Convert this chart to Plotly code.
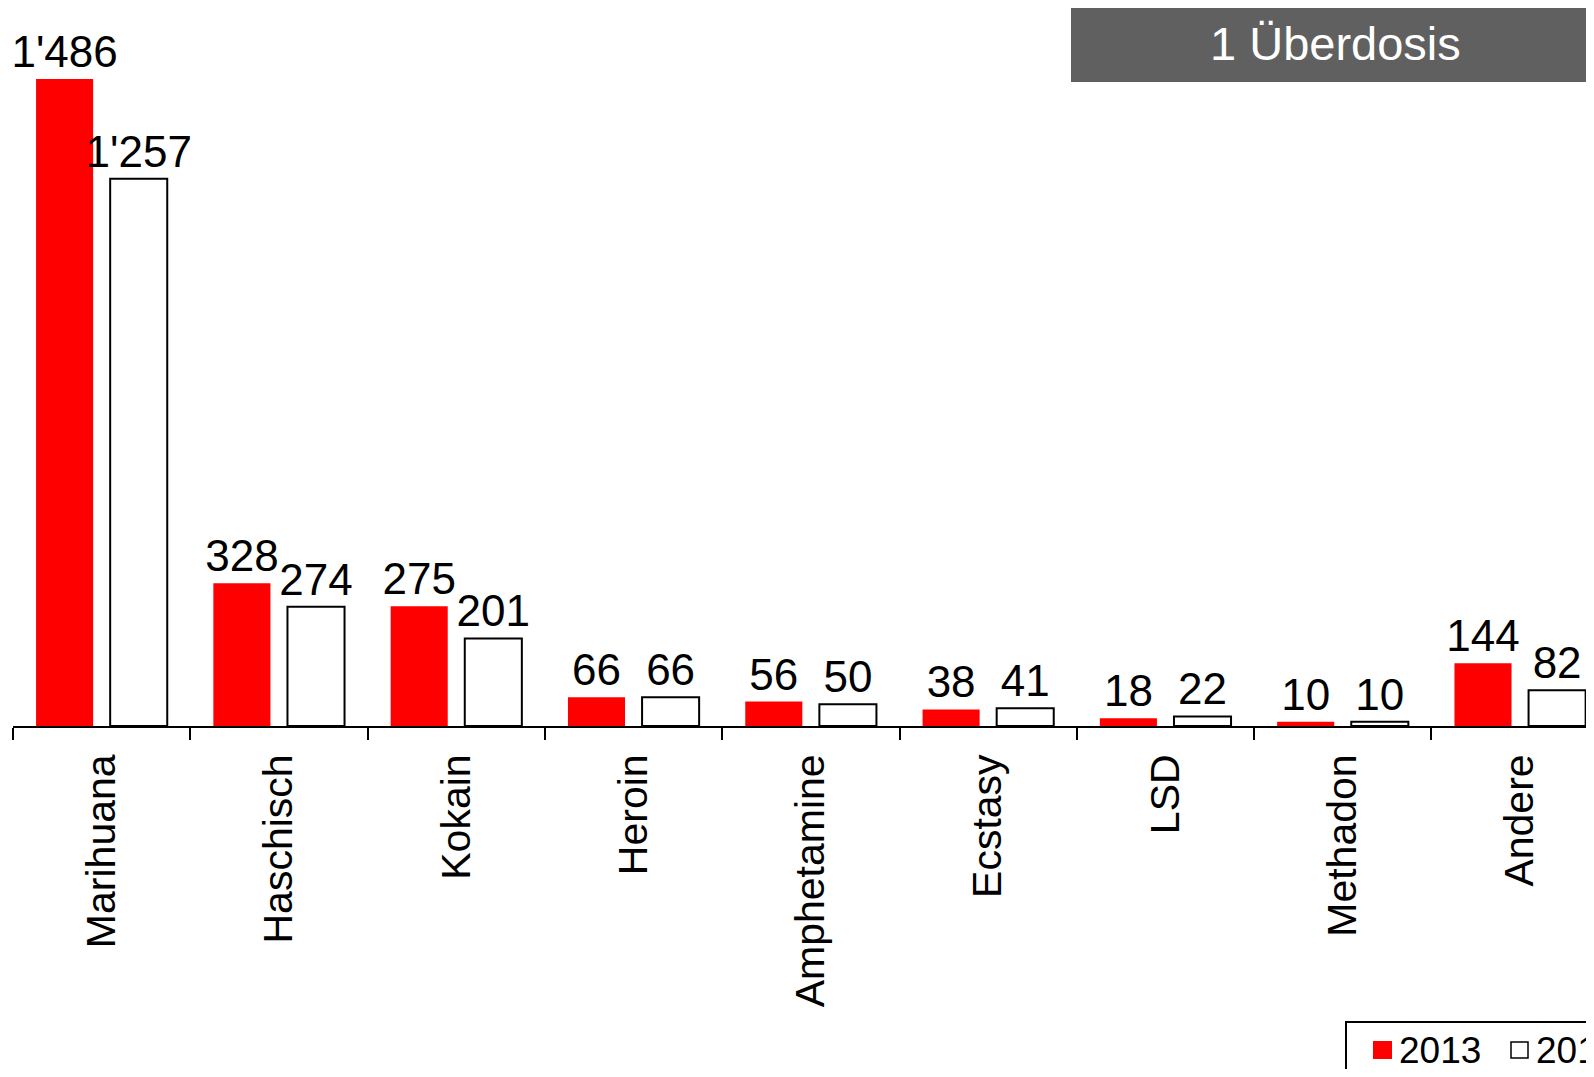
import plotly.graph_objects as go

categories = ["Marihuana", "Haschisch", "Kokain", "Heroin", "Amphetamine",
              "Ecstasy", "LSD", "Methadon", "Andere"]
values_2013 = [1486, 328, 275, 66, 56, 38, 18, 10, 144]
values_2014 = [1257, 274, 201, 66, 50, 41, 22, 10, 82]
series_names = ["2013", "2014"]
title_text = "1 Überdosis"

# page body adds an 8px margin; figure sized to fit the window without overflow
OFF = 8
W, H = 1578, 1061
L, T = 5, 0
BASE = 726 - OFF            # axis baseline in figure px
plot_w = W - L
plot_h = BASE - T
B = H - BASE

FONT = "Liberation Sans, Arial, sans-serif"
RED = "#FF0000"


def px(sx):
    """screen x (reference px) -> paper x"""
    return (sx - OFF - L) / plot_w


def py(sy):
    """screen y (reference px) -> paper y"""
    return (BASE - (sy - OFF)) / plot_h


fig = go.Figure()
fig.add_trace(go.Bar(
    x=categories, y=values_2013, name=series_names[0],
    marker=dict(color=RED, line=dict(width=0)),
    texttemplate="%{y:,}", textposition="outside", constraintext="none",
    textfont=dict(size=44, color="black", family=FONT),
    cliponaxis=False, showlegend=False,
))
fig.add_trace(go.Bar(
    x=categories, y=values_2014, name=series_names[1],
    marker=dict(color="white", line=dict(color="black", width=2)),
    texttemplate="%{y:,}", textposition="outside", constraintext="none",
    textfont=dict(size=44, color="black", family=FONT),
    cliponaxis=False, showlegend=False,
))

px_per_cat = 177.3
x_max = -0.5 + plot_w / px_per_cat

LEG_SHIFT = -7   # small shift so the legend shows as much as the reference does

shapes = [
    # title box
    dict(type="rect", xref="paper", yref="paper",
         x0=px(1071), x1=1.1, y0=py(82), y1=py(-10),
         fillcolor="#606060", line=dict(width=0), layer="above"),
    # legend frame
    dict(type="rect", xref="paper", yref="paper",
         x0=px(1353 + LEG_SHIFT), x1=1.2, y0=py(1120), y1=py(1022),
         fillcolor="white", line=dict(color="black", width=2), layer="above"),
    # legend symbols
    dict(type="rect", xref="paper", yref="paper",
         x0=px(1380 + LEG_SHIFT), x1=px(1399 + LEG_SHIFT), y0=py(1059), y1=py(1041),
         fillcolor=RED, line=dict(width=0), layer="above"),
    dict(type="rect", xref="paper", yref="paper",
         x0=px(1518 + LEG_SHIFT), x1=px(1535 + LEG_SHIFT), y0=py(1058), y1=py(1042),
         fillcolor="white", line=dict(color="black", width=1.5), layer="above"),
]

annotations = [
    dict(text=title_text, xref="paper", yref="paper",
         x=px(1335), y=py(43.5), xanchor="center", yanchor="middle",
         showarrow=False, font=dict(size=47, color="white", family=FONT)),
    dict(text=series_names[0], xref="paper", yref="paper",
         x=px(1404 + LEG_SHIFT), y=py(1050), xanchor="left", yanchor="middle",
         height=34, valign="middle",
         showarrow=False, font=dict(size=37, color="black", family=FONT)),
    dict(text=series_names[1], xref="paper", yref="paper",
         x=px(1541 + LEG_SHIFT), y=py(1050), xanchor="left", yanchor="middle",
         height=34, valign="middle",
         showarrow=False, font=dict(size=37, color="black", family=FONT)),
]

fig.update_layout(
    width=W, height=H,
    margin=dict(l=L, r=0, t=T, b=B, pad=0),
    paper_bgcolor="white", plot_bgcolor="white",
    separators=".'",
    barmode="group", bargap=0.164, bargroupgap=0.23,
    font=dict(family=FONT, color="black"),
    xaxis=dict(
        type="category", range=[-0.5, x_max],
        showline=True, linecolor="black", linewidth=2,
        ticks="outside", tickson="boundaries", ticklen=12, tickwidth=2, tickcolor="black",
        tickangle=-90, ticklabelstandoff=10,
        tickfont=dict(size=41, family=FONT, color="black"),
        showgrid=False, zeroline=False,
    ),
    yaxis=dict(visible=False, range=[0, plot_h / 0.4354], showgrid=False, zeroline=False),
    showlegend=False,
    shapes=shapes,
    annotations=annotations,
)

fig.write_html("out.html")
